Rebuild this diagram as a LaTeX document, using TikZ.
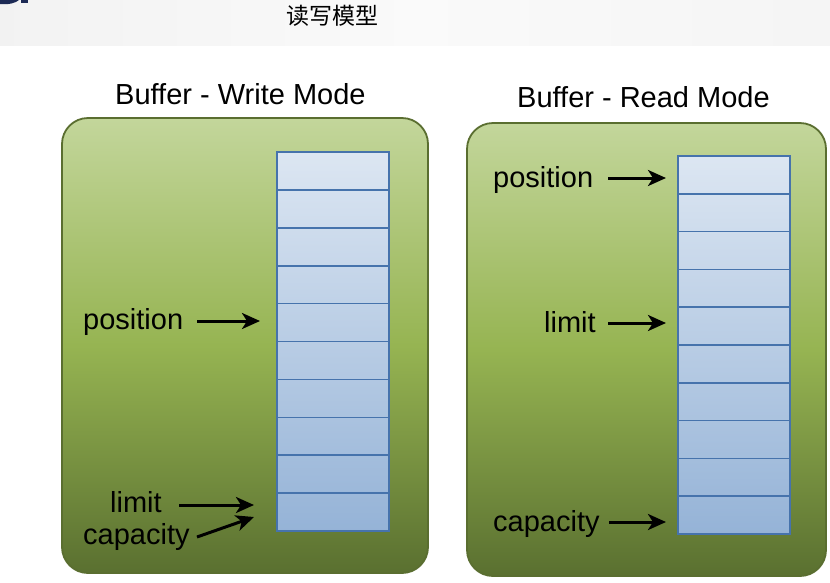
\documentclass[tikz,border=0pt]{standalone}
\usepackage{fontspec}
\setmainfont{Liberation Sans}
\newfontfamily\cjk{Noto Sans CJK SC}
\usetikzlibrary{arrows.meta}
\definecolor{boxtop}{HTML}{C3D69B}
\definecolor{boxmid}{HTML}{96B452}
\definecolor{boxbot}{HTML}{5A7030}
\definecolor{boxline}{HTML}{5A6E30}
\definecolor{celltop}{HTML}{DCE6F2}
\definecolor{cellbot}{HTML}{95B3D7}
\definecolor{cellline}{HTML}{4673AC}
\definecolor{navy}{HTML}{1C2A55}
\tikzset{
  bufbox/.style={draw=boxline, line width=1.8pt, rounded corners=26pt,
    top color=boxtop, bottom color=boxbot, middle color=boxmid},
  colfill/.style={top color=celltop, bottom color=cellbot, draw=none},
  cellbox/.style={draw=cellline, line width=1.6pt, minimum width=112pt, inner sep=0pt, outer sep=0pt},
  lbl/.style={font=\fontsize{29}{32}\selectfont, inner sep=0pt, anchor=base west, text=black},
  ptr/.style={line width=3pt, -{Stealth[length=18pt,width=16pt,inset=5pt]}, black}
}
\begin{document}
\begin{tikzpicture}[x=1pt,y=1pt]
\useasboundingbox (0,0) rectangle (830,-582);
\fill[white] (0,0) rectangle (830,-582);
% top band
\shade[left color=black!5, right color=black!4, middle color=black!2] (0,0) rectangle (830,-45);
\fill[navy] (0,0) -- (19,0) .. controls (16,-3) and (8,-5) .. (0,-4) -- cycle;
\fill[navy] (21,0) rectangle (28,-3);
\node[font=\cjk\fontsize{23}{26}\selectfont, inner sep=0pt] (head) at (332,-16) {读写模型};

% titles
\node[lbl] (twrite) at (115,-104) {Buffer - Write Mode};
\node[lbl] (tread) at (517,-107) {Buffer - Read Mode};

% boxes
\path[bufbox] (62,-118) rectangle (428,-573);
\path[bufbox] (467,-123) rectangle (826,-576);

% left column
\path[colfill] (277,-152) rectangle (389,-531);
\foreach \i in {1,...,10}{
  \node[cellbox, minimum height=37.9pt] (L\i) at (333,{-152-37.9*(\i-0.5)}) {};
}
% right column
\path[colfill] (678,-156) rectangle (790,-534);
\foreach \i in {1,...,10}{
  \node[cellbox, minimum height=37.8pt] (R\i) at (734,{-156-37.8*(\i-0.5)}) {};
}

% left labels
\node[lbl] (wpos) at (83,-329) {position};
\node[lbl] (wlim) at (110,-512) {limit};
\node[lbl] (wcap) at (83,-544) {capacity};
\coordinate (wposS) at (197,-321);
\coordinate (wposT) at (260,-321);
\coordinate (wlimS) at (179,-505);
\coordinate (wlimT) at (254,-505);
\coordinate (wcapS) at (197,-537);
\coordinate (wcapT) at (254,-517);
\draw[ptr] (wposS) -- (wposT);
\draw[ptr] (wlimS) -- (wlimT);
\draw[ptr] (wcapS) -- (wcapT);

% right labels
\node[lbl] (rpos) at (493,-187) {position};
\node[lbl] (rlim) at (544,-332) {limit};
\node[lbl] (rcap) at (493,-531) {capacity};
\coordinate (rposS) at (608,-178);
\coordinate (rposT) at (666,-178);
\coordinate (rlimS) at (608,-323);
\coordinate (rlimT) at (666,-323);
\coordinate (rcapS) at (609,-522);
\coordinate (rcapT) at (666,-522);
\draw[ptr] (rposS) -- (rposT);
\draw[ptr] (rlimS) -- (rlimT);
\draw[ptr] (rcapS) -- (rcapT);
\end{tikzpicture}
\end{document}
